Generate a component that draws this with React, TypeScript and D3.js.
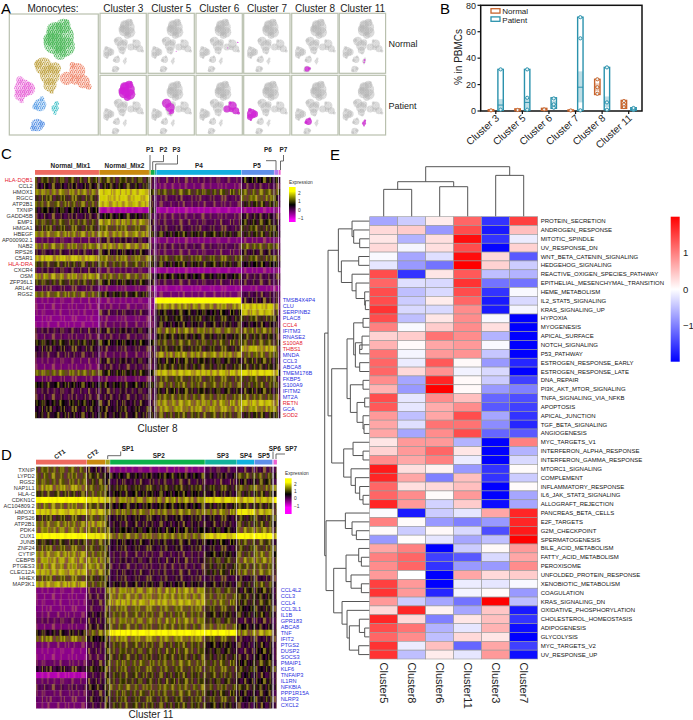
import React from "react";
import * as d3 from "d3";

type Blob = [number, number, number];
type TreeNode = number | [number, TreeNode, TreeNode];

// ---- panel A: t-SNE blobs (tsne units)
const greenBlobs: Blob[] = [[180, 110, 42], [163, 130, 32], [195, 140, 30], [165, 92, 26], [190, 78, 22], [200, 66, 8], [150, 118, 20], [180, 160, 20]];
const goldBlobs: Blob[] = [[130, 198, 26], [150, 225, 30], [150, 255, 20], [155, 275, 7], [165, 205, 18], [115, 192, 12]];
const redBlobs: Blob[] = [[232, 213, 24], [200, 235, 20], [250, 245, 20], [266, 260, 9], [218, 195, 9], [225, 240, 14]];
const pinkBlobs: Blob[] = [[70, 265, 27], [86, 266, 20], [60, 285, 17], [65, 303, 7], [60, 240, 11]];
const blueBlobs: Blob[] = [[120, 315, 19], [106, 320, 9], [126, 296, 7]];
const cyanBlobs: Blob[] = [[165, 325, 11], [170, 310, 7], [165, 340, 5]];
const navyBlobs: Blob[] = [[112, 375, 19], [126, 372, 9], [100, 385, 9]];
const allBlobs = [greenBlobs, goldBlobs, redBlobs, pinkBlobs, blueBlobs, cyanBlobs, navyBlobs];
const blobColors = ["#4fb85c", "#c0a345", "#ee8468", "#e868d8", "#5a9ee6", "#35bcc4", "#5590e4"];

const panelNames = ["Cluster 3", "Cluster 5", "Cluster 6", "Cluster 7", "Cluster 8", "Cluster 11"];
const normalHits: Blob[][] = [
  [],
  [[185, 262, 3]],
  [[262, 205, 4], [205, 240, 3]],
  [],
  navyBlobs.slice(0, 2).map(([a, b, c]) => [a, b, c * 0.8] as Blob),
  [[168, 318, 6], [166, 332, 5]],
];
const patientHits: Blob[][] = [
  greenBlobs,
  [[130, 198, 26], [150, 225, 26], [160, 250, 14], [150, 262, 8]],
  redBlobs,
  pinkBlobs,
  blueBlobs,
  cyanBlobs,
];

// ---- panel B
const bClusters = ["Cluster 3", "Cluster 5", "Cluster 6", "Cluster 7", "Cluster 8", "Cluster 11"];
// min, q1, median, q3, max
const normalBoxes = [[0, 0.2, 0.5, 0.8, 1], [0.2, 0.5, 0.8, 1.2, 1.6], [0.5, 0.8, 1.2, 1.6, 2], [0, 0.2, 0.4, 0.6, 0.8], [12.5, 15, 18, 21, 24], [2, 3, 5, 6, 8]];
const patientBoxes = [[0.5, 1, 4.5, 9, 31.5], [0.5, 2, 6.5, 10, 31.5], [2, 3, 5, 7.5, 10], [0.5, 6.5, 18, 30, 71], [1, 3, 6.5, 11, 33], [0.5, 0.8, 1.2, 1.6, 2.5]];
const patientDots = [[1, 31.5], [1, 10, 31.5], [2.5, 5, 9.5], [0.5, 55, 71], [1, 6.5, 33], [0.8, 1.5, 2.3]];
const normalDots = [[0.5], [0.8], [1.2], [0.4], [13, 18, 24], [3, 5, 7.5]];

// ---- panel C
const cGroups = ["Normal_Mix1", "Normal_Mix2", "P1", "P2", "P3", "P4", "P5", "P6", "P7"];
const cCells = [193, 150, 5, 12, 4, 256, 98, 13, 7];
const cColors = ["#ee6a60", "#c98a10", "#8aa812", "#12ad4a", "#13b0a0", "#12aede", "#5f8fe8", "#b27cf0", "#ee60d0"];
const cGenes = ["HLA-DQB1", "CCL2", "HMOX1", "RGCC", "ATP2B1", "TXNIP", "GADD45B", "EMP1", "HMGA1", "HBEGF", "AP000902.1", "NAB2", "RPS26", "C5AR1", "HLA-DRA", "CXCR4", "OSM", "ZFP36L1", "ARL4C", "RGS2",
  "TMSB4X4P4", "CLU", "SERPINB2", "PLAC8", "CCL4", "IFITM3", "RNASE2", "S100A8", "THBS1", "MNDA", "CCL3", "ABCA8", "TMEM176B", "FKBP5", "S100A9", "IFITM2", "MT2A", "RETN", "GCA", "SOD2"];
const cRed = ["HLA-DQB1", "HLA-DRA", "CCL4", "S100A8", "THBS1", "RETN", "SOD2"];
const cValues = [
  [0.9, 0.9, 0.4, 0.2, 0.2, 0, 0.6, 0.6, 0.2], [0.5, 0.7, 0.5, 0.2, 0.1, -0.2, 0.1, 0.2, 0], [1.4, 1.9, 1.2, 0.8, 0.8, 1, 1.1, 1.1, 0.8], [0.9, 1.9, 0.8, 0.3, 0.2, 0.1, 1.2, 0.6, 0.2],
  [1.1, 1.8, 1, 0.3, 0.3, 0, 0.8, 0.9, 0.2], [0.6, -0.6, 0.5, 0.7, 0.6, -0.6, -0.5, -0.3, -0.5], [0.3, 0.6, 0.4, 0.2, 0.1, 0, 0.4, 0.3, 0], [1, 1.5, 0.7, 0.3, 0.2, 0.1, 0.7, 0.5, 0.1],
  [0.9, 1.1, 0.7, 0.3, 0.2, 0.2, 0.9, 0.6, 0.1], [1.4, 1.5, 1, 0.7, 0.5, 0.7, 0.8, 0.7, 0.4], [0, 0.3, 0, -0.2, -0.2, -0.3, -0.2, -0.2, -0.2], [1.3, 1.5, 0.8, 0.2, 0.2, 0.1, 1.1, 0.9, 0.1],
  [0.3, 0.5, 0.3, 0, 0, 0, 0.4, 0.3, 0], [1.8, 1.3, 1.1, 0.9, 0.9, 1, 1, 1, 1], [0.9, 1, 0.8, 0.6, 0.5, 0.7, 0.6, 0.6, 0.4], [0.2, 0, 0, -0.4, -0.3, -0.5, -0.4, -0.3, -0.4],
  [1.5, 1.2, 1, 0.6, 0.5, 0.6, 0.2, 0.3, 0.2], [0.9, 0.7, 0.6, 0.4, 0.2, 0.1, 0.2, 0.2, 0], [0.1, -0.2, -0.1, -0.3, -0.4, -0.5, -0.4, -0.4, -0.4], [1.2, 0.7, 0.3, 0, -0.2, -0.2, 0.2, 0.2, 0],
  [-0.3, -0.3, -0.3, -0.3, 2.5, 2.5, 0.4, 0.3, -0.2], [-0.3, -0.2, -0.3, -0.3, 1.2, 1.5, 1.9, 1.3, -0.1], [-0.3, 0.2, -0.2, -0.2, 0.5, 0.6, 1.8, 1, 0], [-0.4, -0.2, -0.2, 0, 0.4, 0.7, 0.9, 0.6, 0],
  [-0.4, -0.1, -0.2, -0.1, 0.3, 0.5, 0.5, 0.4, 0], [0.2, 0.4, 0.2, 0.3, 0.5, 1.3, 1.2, 1, 0.3], [0, 0.1, 0.1, 0.1, 0.4, 0.7, 0.8, 0.5, 0], [0.7, 0.6, 0.6, 0.6, 0.8, 1, 1, 0.9, 0.5],
  [0.4, 0.2, 0.2, 0.2, 0.6, 0.8, 1.7, 1.2, 0.4], [0.2, 0, 0.2, 0.3, 1, 1.5, 1.2, 1, 0.3], [-0.1, 0.4, 0.2, 0.3, 0.6, 0.7, 0.8, 0.7, 0.1], [-0.2, 0.2, 0.1, 0.2, 0.5, 0.8, 0.8, 0.6, 0.1],
  [1.2, 0.7, 0.6, 0.6, 1.6, 1.8, 2, 1.8, 0.6], [-0.1, -0.1, 0, 0.1, 0.5, 1, 1, 0.8, 0.1], [0.6, 0.6, 0.6, 0.6, 0.8, 1.1, 1, 1, 0.5], [0.2, 0.3, 0.3, 0.3, 0.4, 0.7, 0.7, 0.5, 0.1],
  [0.2, 0.3, 0.3, 0.3, 0.6, 1.1, 1.1, 1, 0], [0.6, 0.4, 0.2, 0.2, 0.9, 1.5, 1.8, 1.5, 0.2], [0.5, 0.5, 0.4, 0.4, 1.1, 1.5, 1.5, 1.3, 0.3], [0.5, 0.5, 0.5, 0.5, 0.8, 1, 0.8, 0.8, 0.5],
];

// ---- panel D
const dGroups = ["CT1", "CT2", "SP1", "SP2", "SP3", "SP4", "SP5", "SP6", "SP7"];
const dCells = [152, 55, 14, 283, 95, 52, 54, 4, 10];
const dColors = ["#ee6a60", "#c98a10", "#a3a51c", "#0cb04a", "#12b19b", "#10b0df", "#5f8fe8", "#b27cf0", "#ee60d0"];
const dGenes = ["TXNIP", "LYPD2", "RGS2", "NAP1L1", "HLA-C", "CDKN1C", "AC104809.2", "HMOX1", "RPS26", "ATP2B1", "PDK4", "CUX1", "JUNB", "ZNF24", "CYTIP", "CEBPB", "PTGES3", "CLEC12A", "HHEX", "MAP3K1",
  "CCL4L2", "CCL3", "CCL4", "CCL3L1", "IL1B", "GPR183", "ABCA8", "TNF", "IFIT2", "PTGS2", "DUSP2", "SOCS3", "PMAIP1", "KLF6", "TNFAIP3", "IL1RN", "NFKBIA", "PPP1R15A", "NLRP3", "CXCL2"];
const dValues = [
  [1.1, 0.4, 0.2, -0.3, 0.1, 0.2, 0.2, 0.2, 0.2], [1.1, 0.8, 0.6, 0.6, 0.5, 1, 1, 0.8, 0.6], [1.1, 0.9, 0.5, 0.3, 0.2, 0.5, 0.7, 0.5, 0.3], [1.5, 1.1, 0.8, 0.8, 0.8, 1.1, 1.2, 1, 1.2],
  [0.9, 1.1, 0.7, 0.6, 0.5, 0.8, 0.8, 0.7, 0.5], [2.3, 2, 1.6, 1.5, 2, 1.9, 1.8, 2, 2.2], [1.3, 1, 0.7, 0.6, 0.7, 0.8, 0.8, 0.8, 0.9], [1.9, 1.8, 1.2, 1.3, 1.4, 2.1, 1.7, 1.5, 1.1],
  [0.9, 1.1, 0.6, 0.5, 0.5, 0.8, 0.8, 0.7, 0.7], [1.3, 1.6, 0.8, 0.4, 0.4, 0.9, 0.9, 0.8, 0.5], [1.4, 1.2, 0.9, 0.6, 0.6, 1.3, 1.3, 1, 0.9], [2.3, 2.1, 1.8, 1.3, 2, 2.2, 2.2, 2, 1.8],
  [0.8, 1, 0.8, 0.5, 0.6, 1, 0.9, 0.8, 0.6], [1.1, 1, 0.6, 0.4, 0.4, 0.9, 1, 0.8, 0.5], [1.5, 1.2, 0.8, 0.2, 0.6, 1, 1.2, 1, 0.6], [1.6, 1.4, 0.8, 0.3, 0.9, 1.3, 1.3, 1, 0.9],
  [1.5, 1.4, 0.8, 0.2, 0.8, 1, 1.1, 1, 0.8], [1.7, 1.4, 0.9, 0.3, 0.8, 1.2, 1.2, 1.1, 0.9], [1.1, 0.9, 0.6, 0.3, 0.3, 0.4, 0.4, 0.3, 0.2], [1.7, 1.1, 0.6, 0.5, 0.5, 0.8, 1, 0.7, 0.4],
  [-0.3, 0.1, 1, 1.5, 1, 0.7, 0.7, 0.6, 0.3], [-0.3, 0.2, 1, 1.4, 1.1, 0.8, 0.7, 0.6, 0.4], [-0.3, 0.2, 1.1, 1.7, 1.2, 0.8, 0.8, 0.7, 0.5], [-0.3, 0.1, 0.9, 1.2, 0.9, 0.6, 0.7, 0.6, 0.3],
  [-0.2, 0.4, 0.9, 1.1, 0.7, 0.7, 0.7, 0.6, 0.3], [0, 0.3, 0.8, 1.3, 0.9, 0.3, 0.3, 0.3, 0.2], [-0.2, 0.4, 0.9, 1.1, 1.2, 0.6, 0.5, 0.5, 0.3], [0.5, 1.2, 1.5, 2.2, 2.2, 1.4, 1.6, 1.3, 0.9],
  [1.3, 0.6, 0.7, 1.4, 1, 0.3, 0.4, 0.4, 0.3], [-0.2, 0.2, 0.8, 1, 0.6, 0.4, 0.5, 0.4, 0.2], [-0.4, 0.2, 0.7, 1, 0.7, 0.3, 0.6, 0.4, 0.2], [-0.4, 0.1, 0.8, 0.9, 0.8, 0.4, 0.6, 0.4, 0.2],
  [-0.1, 0.3, 0.9, 1.1, 1, 0.6, 0.8, 0.6, 0.4], [0.4, 0.7, 1, 1, 1, 0.8, 0.6, 0.5, 0.5], [-0.7, 0.2, 0.8, 0.9, 0.9, 0.6, 0.4, 0.4, 0.2], [-0.1, 0.3, 0.7, 0.9, 0.8, 0.5, 0.6, 0.5, 0.3],
  [0.1, 0.5, 1, 1.1, 1, 0.8, 0.7, 0.6, 0.5], [-0.1, 0.3, 0.7, 1, 0.8, 0.5, 0.5, 0.4, 0.2], [-0.1, 0.4, 0.7, 0.9, 0.9, 0.6, 0.7, 0.5, 0.2], [-0.2, 0.2, 0.8, 0.9, 0.7, 0.3, 0.4, 0.4, 0.2],
];

// ---- panel E
const eClusters = ["Cluster5", "Cluster8", "Cluster6", "Cluster11", "Cluster3", "Cluster7"];
const ePathways = ["PROTEIN_SECRETION", "ANDROGEN_RESPONSE", "MITOTIC_SPINDLE", "UV_RESPONSE_DN", "WNT_BETA_CATENIN_SIGNALING", "HEDGEHOG_SIGNALING", "REACTIVE_OXIGEN_SPECIES_PATHWAY", "EPITHELIAL_MESENCHYMAL_TRANSITION", "HEME_METABOLISM", "IL2_STAT5_SIGNALING",
  "KRAS_SIGNALING_UP", "HYPOXIA", "MYOGENESIS", "APICAL_SURFACE", "NOTCH_SIGNALING", "P53_PATHWAY", "ESTROGEN_RESPONSE_EARLY", "ESTROGEN_RESPONSE_LATE", "DNA_REPAIR", "PI3K_AKT_MTOR_SIGNALING",
  "TNFA_SIGNALING_VIA_NFKB", "APOPTOSIS", "APICAL_JUNCTION", "TGF_BETA_SIGNALING", "ANGIOGENESIS", "MYC_TARGETS_V1", "INTERFERON_ALPHA_RESPONSE", "INTERFERON_GAMMA_RESPONSE", "MTORC1_SIGNALING", "COMPLEMENT",
  "INFLAMMATORY_RESPONSE", "IL6_JAK_STAT3_SIGNALING", "ALLOGRAFT_REJECTION", "PANCREAS_BETA_CELLS", "E2F_TARGETS", "G2M_CHECKPOINT", "SPERMATOGENESIS", "BILE_ACID_METABOLISM", "FATTY_ACID_METABOLISM", "PEROXISOME",
  "UNFOLDED_PROTEIN_RESPONSE", "XENOBIOTIC_METABOLISM", "COAGULATION", "KRAS_SIGNALING_DN", "OXIDATIVE_PHOSPHORYLATION", "CHOLESTEROL_HOMEOSTASIS", "ADIPOGENESIS", "GLYCOLYSIS", "MYC_TARGETS_V2", "UV_RESPONSE_UP"];
const eValues = [
  [-0.7, -0.4, 0.15, 1.2, -1.6, 1.5], [0.3, 0.4, -0.8, 1.4, -1.8, 0.5], [0.2, -0.6, 0.25, 1.9, -1.6, -0.15], [0.3, -0.08, 0.25, 1.4, -1.95, 0.35], [-0.05, -0.7, -0.25, 1.9, 0.3, -1.3],
  [-0.2, -0.8, -1.1, 2, 0.35, -0.4], [1.4, -1.6, 0.2, 1.3, -0.5, -0.6], [1.2, -0.25, -0.3, 1.6, -1.1, -1.1], [1.4, -0.5, -0.3, 1.4, -1.6, -0.05], [1.4, -0.4, 0.15, 1.2, -1.8, -0.3],
  [1.6, -0.3, -0.3, 0.9, -1.8, -0.08], [1.4, -0.5, 0.2, 0.9, -0.05, -2], [1, -0.05, 0.4, 0.9, 0.25, -2], [0.35, 0.4, 1.1, 0.9, -0.6, -2], [0.6, 0.04, 0.7, 0.8, -0.05, -2],
  [1.1, -0.08, 0.8, 0.85, -0.45, -2], [1.2, -0.15, 1.3, 0.05, -0.8, -1.7], [1.2, 0.3, 0.85, -0.1, -0.3, -2], [0.9, -0.7, 1.7, 0.05, -0.4, -1.5], [0.6, -0.8, 2, 0.05, -0.8, -1],
  [1.4, -0.2, 0.9, 0.5, -1.2, -1.4], [1.3, -0.2, 0.65, 0.9, -1.3, -1.5], [0.8, -0.5, 0.7, 1.4, -0.7, -1.6], [0.7, -0.25, 1.1, 1.1, -0.9, -1.7], [0.7, -0.7, 0.9, 1.4, -1.2, -1.3],
  [0.2, 0.8, 0.8, -0.6, -2, 1], [0.35, 0.8, 1.2, 0.2, -2, -0.6], [0.9, 0.7, 1, -0.15, -2, -0.3], [1.8, 0.25, 0.1, -0.8, -1.6, 0.03], [1.7, 0.7, -1, 0.5, -1.6, -0.4],
  [1.2, 0.25, 0.3, 0.5, -2, 0.03], [1.2, 0.9, 0.03, 0.8, -2, -0.7], [1.7, 0.8, -0.35, 0.4, -1.9, -0.7], [-0.03, -1.8, -0.4, -0.2, 0.7, 1.7], [1, 0.03, -0.8, -1, -0.8, 1.7],
  [0.04, -0.4, 0.05, -0.3, -1.4, 1.8], [-0.8, 0.02, -0.2, -0.7, -0.5, 2], [0.7, 1, -2, -0.4, 0.05, 0.8], [1, 1.2, -1.5, -1.3, -0.3, 0.7], [0.9, 1.2, -1.6, -0.8, -0.8, 0.9],
  [0.8, 0, -2, 0.7, 0.3, 0.4], [1.5, 0.8, -2, -0.15, -0.2, -0.05], [1.6, 0.8, -1.7, -0.08, 0.03, -0.8], [0.8, -0.4, -0.7, -1.1, 2, -0.5], [0.3, 1.7, 0.1, -0.7, 0.45, -1.8],
  [1.7, 0.3, -1, 0.2, 0.5, -1.6], [1.4, 1.1, -0.6, -0.2, 0.6, -1.9], [1.2, 0.9, -0.5, 0.3, 0.2, -2], [1.6, -0.15, 0.5, -1.2, 0.7, -1.5], [1.6, -0.5, 0.15, -0.2, 0.8, -1.9],
];
// dendrograms: [height, left, right], leaves are row / column indices
const colTree: TreeNode = [150, [105, [82, 0, 1], [90, 2, 3]], [124, 4, 5]];
const rowTree: TreeNode = [135,
  [125,
    [94, [53, 0, [48, 1, [30, 2, 3]]], [85, [33, 4, 5], [53, 6, [41, 7, [15, 8, [13, 9, 10]]]]]],
    [114,
      [68,
        [48, [20, 11, 12], [43, [23, 13, [30, 14, 15]], [30, 16, 17]]],
        [58, [20, 18, 19], [38, [15, 20, 21], [20, 22, [17, 23, 24]]]]],
      [78, [50, 25, [20, 26, 27]], [56, 28, [43, 29, [30, 30, [20, 31, 32]]]]]]],
  [131,
    [73, 33, [53, 34, [40, 35, 36]]],
    [108,
      [71, [33, 37, [25, 38, 39]], [56, 40, [25, 41, 42]]],
      [83, 43, [68, 44, [61, [31, 45, [15, 46, 47]], [33, 48, 49]]]]]]];

// fixed stripe tiles that give the heatmap rows their single-cell look (p purple, y yellow)
const stripeTiles = [
  "p.y..ppp.yy.p...y.ppy..p..yyy.p.y.ppp.y....yp..p.y.pp..y.y.ppp...yy.p.p",
  ".ypp.pp..y.p.yy...p.yy.pp..y.p..yyp..pp.y...pp.yyy.p.p.y..ppp.y.py..",
  "p..yy.pp.p.y..pp.yyy.p...yy.p.pp.y..p.y.yp...pp..y.pp.yy...p.ppy..y.pp.y.",
  "yy.p..ppp.y.p.yy..p.pp..y...yyp.p..pp.y.p.y..yy.ppp..p.y..y.p.pp.yy.",
  ".p.yyy.pp..p.y.pp...y.p.yy..ppp.y..p..y.pp.yy.p.p...yy.pp..y.py.p..y.pp",
];
const speckleDots = [[0.8, 0.8], [3.2, 0.5], [2, 2.4], [4.4, 3], [0.6, 3.9], [3, 4.3]];

const heatColor = d3.scaleLinear<string>().domain([-1.2, 0.6, 2.2]).range(["#ff00ff", "#000000", "#ffff00"]).clamp(true);
const gseaColor = d3.scaleLinear<string>().domain([-2, 0, 2]).range(["#0000ff", "#ffffff", "#ff0000"]).clamp(true);
const stripeFade = d3.scaleLinear().domain([-0.5, 0.4, 1.6, 2.4]).range([0.4, 1, 1, 0.05]).clamp(true);

function PanelLetter({ x, y, t }: { x: number; y: number; t: string }) {
  return <text x={x} y={y} fontSize={15}>{t}</text>;
}

function Tsne({ x0, y0, w, h, hits, big }: { x0: number; y0: number; w: number; h: number; hits?: Blob[]; big?: boolean }) {
  const sx = d3.scaleLinear().domain([28, 295]).range(big ? [x0, x0 + w] : [x0 + 0.6, x0 + 47.6]);
  const sy = d3.scaleLinear().domain([42, 405]).range(big ? [y0, y0 + h] : [y0 + 3.6, y0 + 60.4]);
  const k = sx(1) - sx(0);
  const id = `clip-${Math.round(x0)}-${Math.round(y0)}`;
  const suffix = big ? "big" : "small";
  return (
    <g>
      <clipPath id={id}><rect x={x0} y={y0} width={w} height={h} /></clipPath>
      <rect x={x0} y={y0} width={w} height={h} fill="#fff" stroke="#b9c0ae" strokeWidth={1.2} />
      <g clipPath={`url(#${id})`}>
        {allBlobs.map((blobs, i) => blobs.map((b, j) => (
          <circle key={`${i}-${j}`} cx={sx(b[0])} cy={sy(b[1])} r={b[2] * k} fill={big ? `url(#sp-${i}-${suffix})` : `url(#sp-gray-${suffix})`} />
        )))}
        {(hits || []).map((b, j) => (
          <circle key={j} cx={sx(b[0])} cy={sy(b[1])} r={b[2] * k} fill={`url(#sp-hit-${suffix})`} />
        ))}
      </g>
    </g>
  );
}

function Speckle({ id, color, k, dense }: { id: string; color: string; k: number; dense?: boolean }) {
  return (
    <pattern id={id} width={5} height={5} patternUnits="userSpaceOnUse" patternTransform={`scale(${k})`}>
      <rect width={5} height={5} fill={color} opacity={dense ? 0.65 : 0.28} />
      {speckleDots.map((d, i) => <circle key={i} cx={d[0]} cy={d[1]} r={0.7} fill={color} />)}
    </pattern>
  );
}

function BoxMark({ cx, v, dots, color, y }: { cx: number; v: number[]; dots: number[]; color: string; y: d3.ScaleLinear<number, number> }) {
  const bw = 5.4;
  return (
    <g>
      <rect x={cx - bw / 2} y={y(v[3])} width={bw} height={y(v[1]) - y(v[3])} fill={color} opacity={0.3} />
      <rect x={cx - bw / 2} y={y(v[4])} width={bw} height={y(v[0]) - y(v[4])} fill="none" stroke={color} strokeWidth={1.4} />
      <line x1={cx - bw / 2} x2={cx + bw / 2} y1={y(v[2])} y2={y(v[2])} stroke={color} strokeWidth={1} />
      {dots.map((d, i) => <circle key={i} cx={cx} cy={y(d)} r={1.6} fill="#e8f4f6" stroke={color} strokeWidth={1} />)}
    </g>
  );
}

function GeneHeat({ id, cells, colors, values, genes, red, x0, x1, y0, y1, labelL, labelR }: {
  id: string; cells: number[]; colors: string[]; values: number[][]; genes: string[]; red: string[];
  x0: number; x1: number; y0: number; y1: number; labelL: number; labelR: number;
}) {
  const cum = d3.cumsum(cells);
  const x = d3.scaleLinear().domain([0, cum[cum.length - 1]]).range([x0, x1]);
  const y = d3.scaleBand<number>().domain(d3.range(genes.length)).range([y0, y1]);
  const tileW = 1.1;
  return (
    <g>
      <defs>
        {d3.range(5).map((i) => {
          const t = stripeTiles[i];
          return (
            <pattern key={i} id={`${id}-st-${i}`} width={t.length * tileW} height={10} patternUnits="userSpaceOnUse">
              {t.split("").map((c, k) => c === "." ? null : (
                <rect key={k} x={k * tileW} width={tileW} height={10} fill={c === "p" ? "#7a0a7a" : "#f2d830"} opacity={c === "p" ? 0.55 : 0.55} />
              ))}
            </pattern>
          );
        })}
      </defs>
      {cells.map((_, g) => {
        const a = x(g === 0 ? 0 : cum[g - 1]);
        const b = x(cum[g]) - 0.7;
        return (
          <g key={g}>
            <rect x={a} width={b - a + 0.3} y={y0 - 7} height={4.8} fill={colors[g]} />
            {genes.map((_, r) => (
              <g key={r}>
                <rect x={a} width={Math.max(b - a, 0.4)} y={y(r)} height={y.bandwidth() + 0.2} fill={heatColor(values[r][g])} />
                <rect x={a} width={Math.max(b - a, 0.4)} y={y(r)} height={y.bandwidth() + 0.2} fill={`url(#${id}-st-${r % 5})`} opacity={stripeFade(values[r][g])} />
              </g>
            ))}
          </g>
        );
      })}
      {genes.map((g, r) => {
        const left = r < 20;
        return (
          <text key={g} x={left ? labelL : labelR} y={y(r)! + y.bandwidth() / 2 + 1.9} fontSize={5.6} textAnchor={left ? "end" : "start"}
            fill={red.includes(g) ? "#e5202e" : left ? "#333" : "#2a2fe0"}>{g}</text>
        );
      })}
    </g>
  );
}

function ExprLegend({ id, x, top, bottom, y2, yM1 }: { id: string; x: number; top: number; bottom: number; y2: number; yM1: number }) {
  const y = d3.scaleLinear().domain([2, -1]).range([y2, yM1]);
  return (
    <g>
      <linearGradient id={id} gradientUnits="userSpaceOnUse" x1={0} x2={0} y1={y(2.2)} y2={y(-1.2)}>
        <stop offset="0" stopColor={heatColor(2.2)} />
        <stop offset={(2.2 - 0.6) / 3.4} stopColor={heatColor(0.6)} />
        <stop offset="1" stopColor={heatColor(-1.2)} />
      </linearGradient>
      <rect x={x} y={top} width={6.6} height={bottom - top} fill={`url(#${id})`} />
      <text x={x} y={top - 3.4} fontSize={4.8} fill="#333">Expression</text>
      {[2, 1, 0, -1].map((t) => (
        <text key={t} x={x + 9} y={y(t) + 1.8} fontSize={4.8} fill="#333">{t === -1 ? "\u22121" : t}</text>
      ))}
    </g>
  );
}

function Dendro({ tree, pos, h, vertical }: { tree: TreeNode; pos: (i: number) => number; h: (v: number) => number; vertical: boolean }) {
  const segs: string[] = [];
  const walk = (n: TreeNode): [number, number] => {
    if (typeof n === "number") return [pos(n), 0];
    const [ht, a, b] = n;
    const [pa, ha] = walk(a);
    const [pb, hb] = walk(b);
    const line = d3.line();
    const pts: [number, number][] = [[pa, h(ha)], [pa, h(ht)], [pb, h(ht)], [pb, h(hb)]];
    segs.push(line(vertical ? pts : pts.map(([p, q]) => [q, p] as [number, number]))!);
    return [(pa + pb) / 2, ht];
  };
  walk(tree);
  return <g fill="none" stroke="#555" strokeWidth={1}>{segs.map((d, i) => <path key={i} d={d} />)}</g>;
}

export default function App() {
  // panel A layout
  const colX = [100, 148, 196, 243.7, 291.7, 339.3];
  // panel B scales
  const by = d3.scaleLinear().domain([0, 80]).range([111, 5.3]);
  const bx = d3.scaleBand().domain(bClusters).range([482.5, 642]);
  // panel E scales
  const ex = d3.scaleBand().domain(eClusters).range([369.7, 537.7]);
  const ey = d3.scaleBand().domain(ePathways).range([216.7, 659]);
  const eLegend = d3.scaleLinear().domain([1, -1]).range([252.7, 326]);
  const eTop = d3.scaleLinear().domain([0, 150]).range([216.7, 166.7]);
  const eLeft = d3.scaleLinear().domain([0, 135]).range([369.7, 324.7]);

  return (
    <svg width={693} height={720} style={{ position: "absolute", left: 0, top: 0, background: "#fff" }} fontFamily="'Liberation Sans', Arial, sans-serif">
      <defs>
        {blobColors.map((c, i) => <Speckle key={i} id={`sp-${i}-big`} color={c} k={0.8} />)}
        <Speckle id="sp-gray-small" color="#b4b4b4" k={0.5} />
        <Speckle id="sp-hit-small" color="#d21fd8" k={0.5} dense />
        <linearGradient id="gsea" gradientUnits="userSpaceOnUse" x1={0} x2={0} y1={216.7} y2={361.7}>
          <stop offset="0" stopColor="#ff0000" />
          <stop offset="0.5" stopColor="#ffffff" />
          <stop offset="1" stopColor="#0000ff" />
        </linearGradient>
      </defs>

      {/* A */}
      <PanelLetter x={1} y={14} t="A" />
      <text x={53} y={11.5} fontSize={10} textAnchor="middle" fill="#222">Monocytes:</text>
      <Tsne x0={9.3} y0={14} w={89} h={121} big />
      {panelNames.map((name, i) => (
        <g key={name}>
          <text x={colX[i] + 23.3} y={11.5} fontSize={10} textAnchor="middle" fill="#222">{name}</text>
          <Tsne x0={colX[i]} y0={13.3} w={46.3} h={60} hits={normalHits[i]} />
          <Tsne x0={colX[i]} y0={75.3} w={46.3} h={59.7} hits={patientHits[i]} />
        </g>
      ))}
      <text x={388.5} y={47} fontSize={9} fill="#222">Normal</text>
      <text x={388.5} y={109} fontSize={9} fill="#222">Patient</text>

      {/* B */}
      <PanelLetter x={440} y={14} t="B" />
      <rect x={480.7} y={5.3} width={161.3} height={105.7} fill="none" stroke="#111" strokeWidth={1.5} />
      {by.ticks(4).map((t) => (
        <g key={t}>
          <line x1={477.5} x2={480.7} y1={by(t)} y2={by(t)} stroke="#111" strokeWidth={1.2} />
          <text x={476} y={by(t) + 3.2} fontSize={9} textAnchor="end" fill="#222">{t}</text>
        </g>
      ))}
      <text transform="translate(462,57) rotate(-90)" fontSize={10} textAnchor="middle" fill="#222">% in PBMCs</text>
      {bClusters.map((c, i) => {
        const cx = bx(c)! + bx.bandwidth() / 2;
        return (
          <g key={c}>
            <line x1={cx} x2={cx} y1={111} y2={114} stroke="#111" strokeWidth={1.2} />
            <text transform={`translate(${cx + 4},119) rotate(-42)`} fontSize={10} textAnchor="end" fill="#222">{c}</text>
            <BoxMark cx={cx - 4.8} v={normalBoxes[i]} dots={normalDots[i]} color="#c8642c" y={by} />
            <BoxMark cx={cx + 4.8} v={patientBoxes[i]} dots={patientDots[i]} color="#2b92ad" y={by} />
          </g>
        );
      })}
      <rect x={491} y={8.7} width={9} height={4.4} fill="none" stroke="#c8642c" strokeWidth={1.3} />
      <rect x={491} y={16.9} width={9} height={4.4} fill="none" stroke="#2b92ad" strokeWidth={1.3} />
      <text x={502.3} y={13.6} fontSize={8} fill="#222">Normal</text>
      <text x={502.3} y={22.8} fontSize={8} fill="#222">Patient</text>

      {/* C */}
      <PanelLetter x={1} y={159} t="C" />
      <GeneHeat id="c" cells={cCells} colors={cColors} values={cValues} genes={cGenes} red={cRed} x0={35} x1={281} y0={177} y1={418} labelL={32.7} labelR={282.7} />
      <g fontSize={6.4} fontWeight="bold" fill="#222" textAnchor="middle">
        <text x={70.5} y={168}>{cGroups[0]}</text>
        <text x={124.5} y={168}>{cGroups[1]}</text>
        <text x={199} y={168}>{cGroups[5]}</text>
        <text x={257} y={168}>{cGroups[6]}</text>
        <text x={150} y={152}>{cGroups[2]}</text>
        <text x={163.5} y={152}>{cGroups[3]}</text>
        <text x={176.5} y={152}>{cGroups[4]}</text>
        <text x={268} y={152}>{cGroups[7]}</text>
        <text x={283.5} y={152}>{cGroups[8]}</text>
      </g>
      <g fill="none" stroke="#444" strokeWidth={0.8}>
        <path d="M150,155V170" />
        <path d="M163.5,155V161.7H152.7V170" />
        <path d="M177.5,155V164H155.7V170" />
        <path d="M266,160.7H276V170" />
        <path d="M283.5,155V161H280.5V170" />
      </g>
      <ExprLegend id="lc" x={289} top={187} bottom={222} y2={193} yM1={218.3} />
      <text x={157.5} y={432} fontSize={10} textAnchor="middle" fill="#222">Cluster 8</text>

      {/* D */}
      <PanelLetter x={1} y={460} t="D" />
      <GeneHeat id="d" cells={dCells} colors={dColors} values={dValues} genes={dGenes} red={[]} x0={36} x1={277.3} y0={466.7} y1={708.3} labelL={34.7} labelR={280.7} />
      <g fontSize={6.4} fontWeight="bold" fill="#222" textAnchor="middle">
        <text transform="translate(61,456) rotate(-35)">{dGroups[0]}</text>
        <text transform="translate(94,456) rotate(-35)">{dGroups[1]}</text>
        <text x={127.7} y={450.5}>{dGroups[2]}</text>
        <text x={158.7} y={458}>{dGroups[3]}</text>
        <text x={222.7} y={458}>{dGroups[4]}</text>
        <text x={245.7} y={458}>{dGroups[5]}</text>
        <text x={263.7} y={458}>{dGroups[6]}</text>
        <text x={274.7} y={450.5}>{dGroups[7]}</text>
        <text x={291} y={450.5}>{dGroups[8]}</text>
      </g>
      <g fill="none" stroke="#444" strokeWidth={0.8}>
        <path d="M120.7,451.5V455.7H107.7V459" />
        <path d="M273,451.5V459" />
        <path d="M285,454H276V459" />
      </g>
      <ExprLegend id="ld" x={285} top={478.3} bottom={514} y2={483.7} yM1={506} />
      <text x={151} y={718} fontSize={10} textAnchor="middle" fill="#222">Cluster 11</text>

      {/* E */}
      <PanelLetter x={330} y={160} t="E" />
      <Dendro tree={colTree} vertical pos={(i) => ex(eClusters[i])! + ex.bandwidth() / 2} h={eTop} />
      <Dendro tree={rowTree} vertical={false} pos={(i) => ey(ePathways[i])! + ey.bandwidth() / 2} h={eLeft} />
      {ePathways.map((p, r) => (
        <g key={p}>
          {eClusters.map((c, k) => (
            <rect key={c} x={ex(c)} y={ey(p)} width={ex.bandwidth()} height={ey.bandwidth()} fill={gseaColor(eValues[r][k])} stroke="#999" strokeWidth={0.6} />
          ))}
          <text x={540.7} y={ey(p)! + ey.bandwidth() / 2 + 2} fontSize={6} fill="#111">{p}</text>
        </g>
      ))}
      {eClusters.map((c) => (
        <text key={c} transform={`translate(${ex(c)! + ex.bandwidth() / 2 - 3.8},662.5) rotate(90)`} fontSize={11} fill="#222">{c}</text>
      ))}
      <rect x={670.7} y={216.7} width={9} height={145} fill="url(#gsea)" />
      {[1, 0, -1].map((t) => (
        <text key={t} x={683} y={eLegend(t) + 3.4} fontSize={9.5} fill="#222">{t === -1 ? "\u22121" : t}</text>
      ))}
    </svg>
  );
}
